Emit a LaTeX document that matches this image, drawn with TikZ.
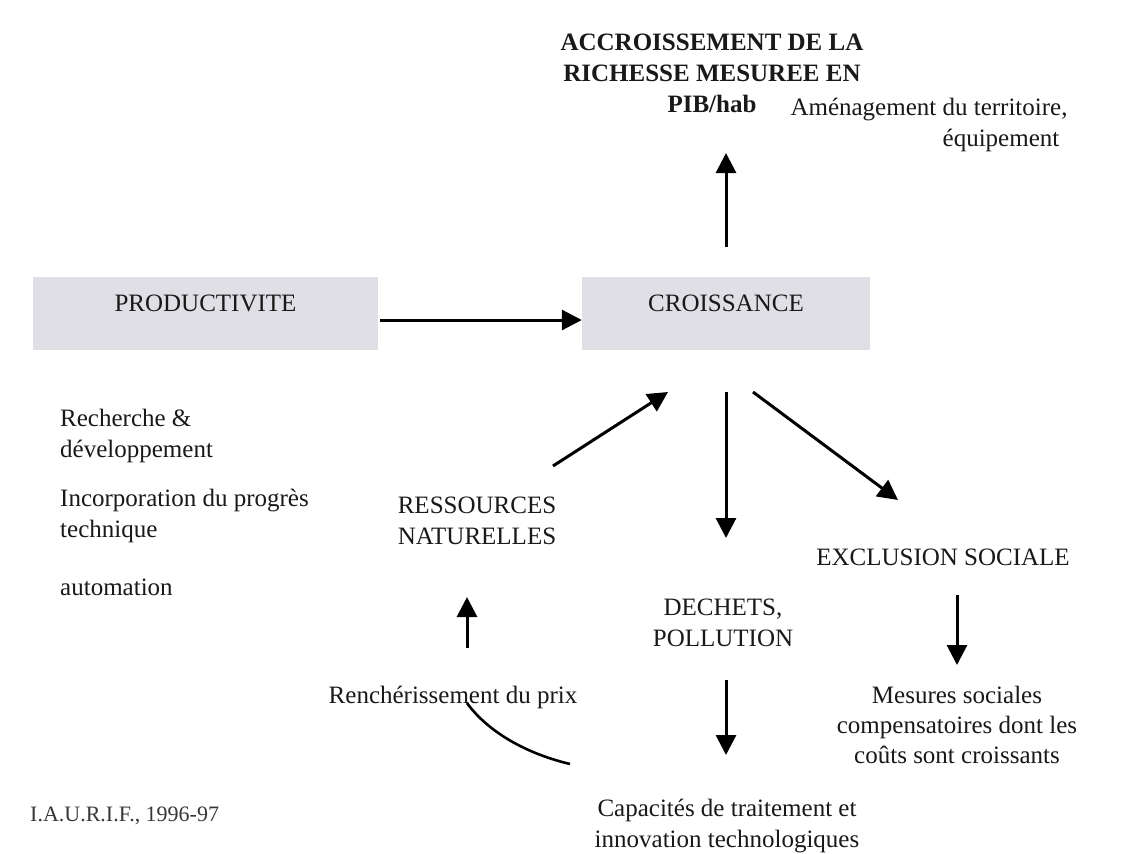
\documentclass[tikz,border=0pt]{standalone}
\usepackage{fontspec}
\setmainfont{Liberation Serif}
\usetikzlibrary{arrows.meta}
\definecolor{boxgray}{RGB}{223,223,229}
\definecolor{srcgray}{RGB}{55,55,55}
\begin{document}
\begin{tikzpicture}[x=1pt,y=-1pt,
  txt/.style={inner sep=0pt, font=\fontsize{25}{31}\selectfont, align=center, text=black!90},
  lefttxt/.style={txt, align=left},
  boxnode/.style={fill=boxgray, draw=none, inner sep=0pt, minimum height=73pt,
    text height=10pt, text depth=13.5pt, font=\fontsize{25}{31}\selectfont, text=black!90},
  arr/.style={line width=3pt, -{Triangle[length=20pt,width=20pt]}},
  link/.style={line width=2.6pt},
]
\useasboundingbox[fill=white] (0,0) rectangle (1141,854);

% boxes
\node[boxnode, minimum width=345pt] (prod) at (205.5,313.5) {PRODUCTIVITE};
\node[boxnode, minimum width=288pt] (croiss) at (726,313.5) {CROISSANCE};

% texts
\node[txt, font=\fontsize{25}{31}\selectfont\bfseries] (title) at (712,73)
  {ACCROISSEMENT DE LA\\RICHESSE MESUREE EN\\PIB/hab};
\node[txt] (amenag) at (929,125) {Aménagement du territoire,\\\hspace*{144pt}équipement};
\node[lefttxt, anchor=north west] (rd) at (60,409) {Recherche \&\\développement};
\node[lefttxt, anchor=north west] (incorp) at (60,489) {Incorporation du progrès\\technique};
\node[lefttxt, anchor=base west] (autom) at (60,595) {automation};
\node[txt] (ress) at (477,521) {RESSOURCES\\NATURELLES};
\node[txt] (dechets) at (723,623) {DECHETS,\\POLLUTION};
\node[txt, anchor=base] (exclu) at (943,565) {EXCLUSION SOCIALE};
\node[txt, font=\fontsize{25}{30}\selectfont] (mesures) at (957,724.5)
  {Mesures sociales\\compensatoires dont les\\coûts sont croissants};
\node[txt] (capac) at (727,826) {Capacités de traitement et\\innovation technologiques};
\node[txt, anchor=base] (rench) at (453,703) {Renchérissement du prix};
\node[txt, anchor=base west, font=\fontsize{22}{26}\selectfont, text=srcgray] (src) at (30,821)
  {I.A.U.R.I.F., 1996-97};

% connector end points
\coordinate (upS) at (726,247);   \coordinate (upE) at (726,153);
\coordinate (dnS) at (726,392);   \coordinate (dnE) at (726,538);
\coordinate (dgS) at (753,392);   \coordinate (dgE) at (898,500);
\coordinate (rsS) at (553,466);   \coordinate (rsE) at (668,392);
\coordinate (prS) at (467,648);   \coordinate (prE) at (467,597);
\coordinate (poS) at (726,680);   \coordinate (poE) at (726,755);
\coordinate (exS) at (957,595);   \coordinate (exE) at (957,665);
\coordinate (cvS) at (467,703);   \coordinate (cvE) at (570,764);

% connectors
\draw[arr, shorten <=2pt] ([yshift=-6.5pt]prod.east) -- ([yshift=-6.5pt]croiss.west);
\draw[arr] (upS) -- (upE);
\draw[arr] (dnS) -- (dnE);
\draw[arr] (dgS) -- (dgE);
\draw[arr] (rsS) -- (rsE);
\draw[arr] (prS) -- (prE);
\draw[arr] (poS) -- (poE);
\draw[arr] (exS) -- (exE);
\draw[link] (cvS) .. controls (485,728) and (520,752) .. (cvE);
\end{tikzpicture}
\end{document}
